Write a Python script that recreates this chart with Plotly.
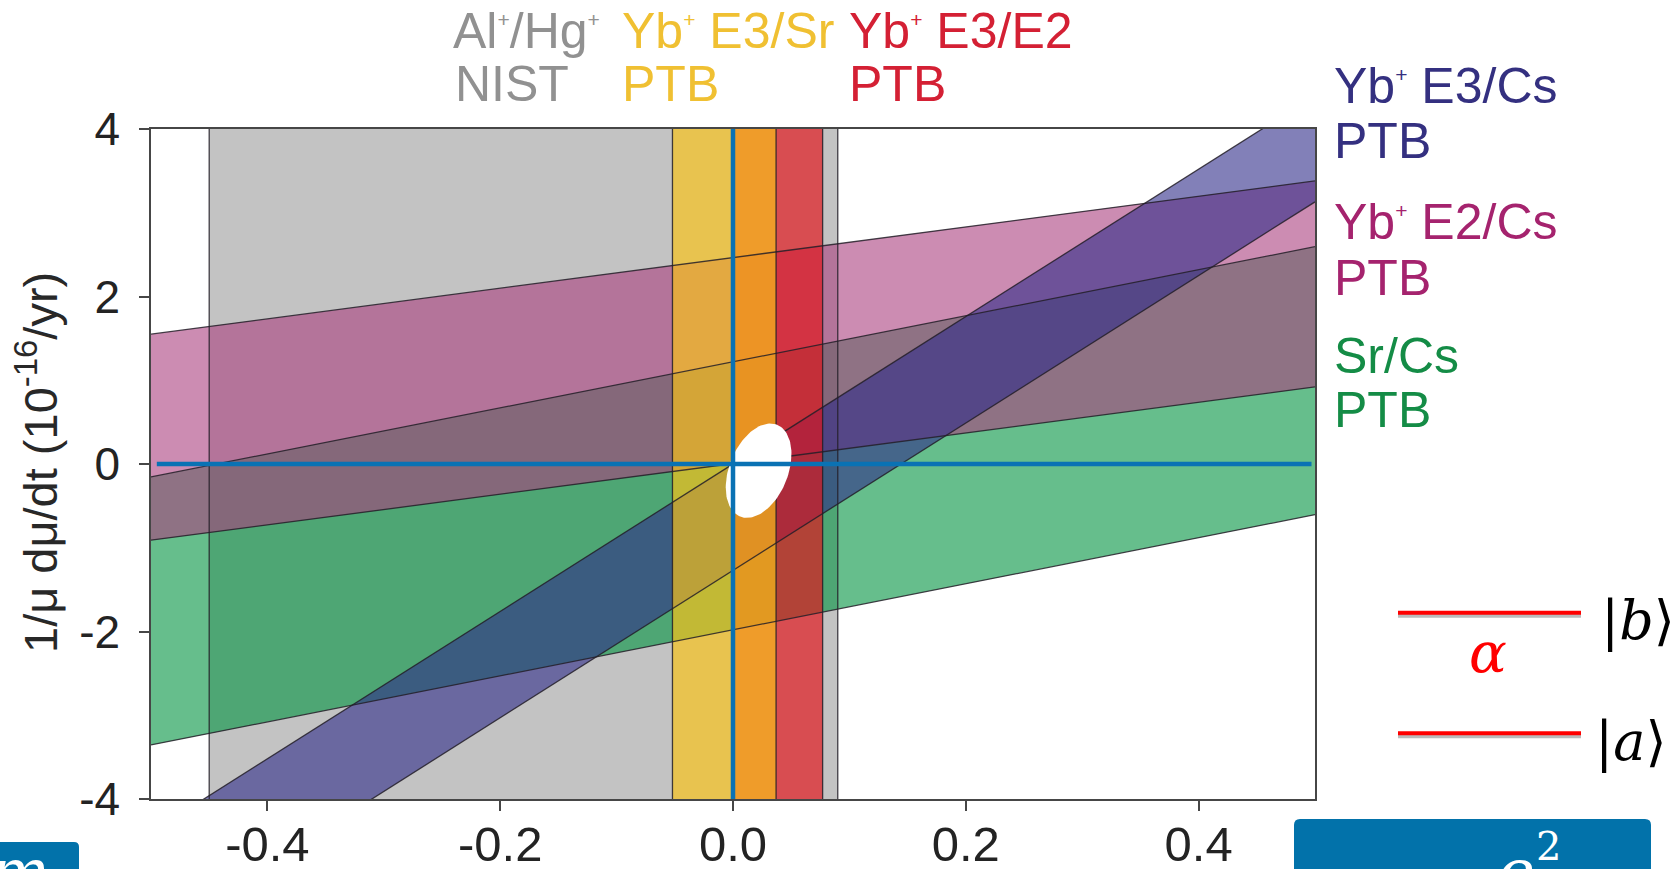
import numpy as np
import plotly.graph_objects as go

# ---- figure geometry (pixels) ----
W, H = 1675, 869
L, R, T, B = 151, 1315, 129, 799

X_RANGE = [-0.5, 0.5]
Y_RANGE = [-4, 4]

# ---- vertical constraints on (1/alpha) dalpha/dt ----
gray_lo, gray_hi = -0.45, 0.09          # Al+/Hg+ NIST
red_lo, red_hi = 0.0, 0.077             # Yb+ E3/E2 PTB
yellow_lo, yellow_hi = -0.052, 0.037    # Yb+ E3/Sr PTB

# ---- slanted constraints: y = slope * x + intercept ----
srcs_slope, srcs_lo, srcs_hi = 2.75, -1.98, 1.22      # Sr/Cs PTB
e2cs_slope, e2cs_lo, e2cs_hi = 1.83, 0.005, 2.465     # Yb+ E2/Cs PTB
e3cs_slope, e3cs_lo, e3cs_hi = 8.8, -1.27, 0.0        # Yb+ E3/Cs PTB

# combined allowed region (ellipse: centre and two semi-axis vectors)
ell_center = (0.022, -0.08)
ell_u = (0.0158, 0.548)
ell_v = (0.0234, -0.130)

x_ticks = [-0.4, -0.2, 0.0, 0.2, 0.4]
x_ticktext = ["-0.4", "-0.2", "0.0", "0.2", "0.4"]
y_ticks = [-4, -2, 0, 2, 4]
y_ticktext = ["-4", "-2", "0", "2", "4"]

EDGE = "rgba(35,30,40,0.85)"
BLUE = "rgb(10,114,180)"
SANS = "Liberation Sans, Arial, sans-serif"
SERIF = "DejaVu Serif, Liberation Serif, serif"
PLUS = '<sup><span style="font-size:60%">+</span></sup>'


def px_x(px):
    return (px - L) / (R - L)


def px_y(py):
    return (B - py) / (B - T)


fig = go.Figure()


def vband(lo, hi, color):
    fig.add_trace(go.Scatter(
        x=[lo, hi, hi, lo, lo], y=[Y_RANGE[0], Y_RANGE[0], Y_RANGE[1], Y_RANGE[1], Y_RANGE[0]],
        mode="lines", line=dict(width=0), fill="toself", fillcolor=color,
        hoverinfo="skip", showlegend=False))


def sband(slope, lo, hi, color):
    xs = np.array([X_RANGE[0], X_RANGE[1], X_RANGE[1], X_RANGE[0], X_RANGE[0]])
    off = np.array([hi, hi, lo, lo, hi])
    fig.add_trace(go.Scatter(
        x=xs, y=slope * xs + off, mode="lines", line=dict(width=0),
        fill="toself", fillcolor=color, hoverinfo="skip", showlegend=False))


def vedge(x0):
    fig.add_trace(go.Scatter(x=[x0, x0], y=Y_RANGE, mode="lines",
                             line=dict(color=EDGE, width=1.3),
                             hoverinfo="skip", showlegend=False))


def sedge(slope, b):
    xs = np.array(X_RANGE)
    fig.add_trace(go.Scatter(x=xs, y=slope * xs + b, mode="lines",
                             line=dict(color=EDGE, width=1.3),
                             hoverinfo="skip", showlegend=False))


# filled regions, bottom to top
vband(gray_lo, gray_hi, "rgb(195,195,195)")
sband(srcs_slope, srcs_lo, srcs_hi, "rgba(0,147,63,0.6)")
sband(e2cs_slope, e2cs_lo, e2cs_hi, "rgba(170,63,127,0.6)")
sband(e3cs_slope, e3cs_lo, e3cs_hi, "rgba(47,43,137,0.6)")
vband(red_lo, red_hi, "rgba(226,20,26,0.68)")
vband(yellow_lo, yellow_hi, "rgba(249,194,23,0.68)")

# band outlines
for xv in (gray_lo, gray_hi, red_lo, red_hi, yellow_lo, yellow_hi):
    vedge(xv)
for s, lo, hi in ((srcs_slope, srcs_lo, srcs_hi),
                  (e2cs_slope, e2cs_lo, e2cs_hi),
                  (e3cs_slope, e3cs_lo, e3cs_hi)):
    sedge(s, lo)
    sedge(s, hi)

# allowed region
t = np.linspace(0, 2 * np.pi, 120)
ex = ell_center[0] + ell_u[0] * np.cos(t) + ell_v[0] * np.sin(t)
ey = ell_center[1] + ell_u[1] * np.cos(t) + ell_v[1] * np.sin(t)
fig.add_trace(go.Scatter(x=ex, y=ey, mode="lines", line=dict(width=0),
                         fill="toself", fillcolor="white",
                         hoverinfo="skip", showlegend=False))

# zero cross-hair
cross_h_x = [-0.495, 0.497]
cross_v_y = [-4, 4]
fig.add_trace(go.Scatter(x=cross_h_x, y=[0, 0], mode="lines",
                         line=dict(color=BLUE, width=4.5),
                         hoverinfo="skip", showlegend=False))
fig.add_trace(go.Scatter(x=[0, 0], y=cross_v_y, mode="lines",
                         line=dict(color=BLUE, width=4.5),
                         hoverinfo="skip", showlegend=False))

annotations = []


def ann(text, xp, yp, size, color, xanchor="left", family=SANS, angle=0):
    annotations.append(dict(
        text=text, x=px_x(xp), y=px_y(yp), xref="paper", yref="paper",
        xanchor=xanchor, yanchor="middle", showarrow=False, textangle=angle,
        font=dict(size=size, color=color, family=family)))


GRAY_T = "rgb(145,145,145)"
YEL_T = "rgb(240,192,50)"
RED_T = "rgb(212,32,52)"
NAVY_T = "rgb(52,48,128)"
MAG_T = "rgb(165,35,110)"
GRN_T = "rgb(20,140,70)"

ann(f"Al{PLUS}/Hg{PLUS}", 451, 31, 50, GRAY_T)
ann("NIST", 453, 84, 50, GRAY_T)
ann(f"Yb{PLUS} E3/Sr", 620, 31, 50, YEL_T)
ann("PTB", 620, 84, 50, YEL_T)
ann(f"Yb{PLUS} E3/E2", 847, 31, 50, RED_T)
ann("PTB", 847, 84, 50, RED_T)

ann(f"Yb{PLUS} E3/Cs", 1332, 86, 50, NAVY_T)
ann("PTB", 1332, 141, 50, NAVY_T)
ann(f"Yb{PLUS} E2/Cs", 1332, 222, 50, MAG_T)
ann("PTB", 1332, 278, 50, MAG_T)
ann("Sr/Cs", 1332, 356, 50, GRN_T)
ann("PTB", 1332, 410, 50, GRN_T)

ann("1/\u03bc d\u03bc/dt (10<sup>-16</sup>/yr)", 37, 463, 47, "rgb(40,40,40)",
    xanchor="center", angle=-90)

# two-level sketch
ann("<i>\u03b1</i>", 1488, 652, 56, "red", xanchor="center", family=SERIF)
ann("|<i>b</i>\u27e9", 1599, 620, 54, "black", family=SERIF)
ann("|<i>a</i>\u27e9", 1593, 741, 54, "black", family=SERIF)
ann("<i>e</i>", 1516, 872, 64, "white", xanchor="center", family=SERIF)
ann("2", 1548, 846, 40, "white", xanchor="center", family=SERIF)
ann("<i>m</i>", 19, 872, 64, "white", xanchor="center", family=SERIF)

shapes = []
for ly in (612.7, 733.3):
    shapes.append(dict(type="line", xref="paper", yref="paper",
                       x0=px_x(1398), x1=px_x(1581), y0=px_y(ly + 3), y1=px_y(ly + 3),
                       line=dict(color="rgba(60,60,60,0.35)", width=4), layer="above"))
    shapes.append(dict(type="line", xref="paper", yref="paper",
                       x0=px_x(1398), x1=px_x(1581), y0=px_y(ly), y1=px_y(ly),
                       line=dict(color="rgb(255,0,0)", width=4), layer="above"))


def rounded_box(x0, y0, x1, y1, r):
    X0, X1 = px_x(x0), px_x(x1)
    Y0, Y1 = px_y(y0), px_y(y1)
    rx = r / (R - L)
    ry = r / (B - T)
    return (f"M {X0},{Y1} L {X0},{Y0 - ry} Q {X0},{Y0} {X0 + rx},{Y0} "
            f"L {X1 - rx},{Y0} Q {X1},{Y0} {X1},{Y0 - ry} L {X1},{Y1} Z")


BOX = "rgb(2,114,170)"
shapes.append(dict(type="path", xref="paper", yref="paper",
                   path=rounded_box(1294, 819, 1651, 900, 6),
                   fillcolor=BOX, line=dict(width=0), layer="below"))
shapes.append(dict(type="path", xref="paper", yref="paper",
                   path=rounded_box(-20, 842, 79, 900, 5),
                   fillcolor=BOX, line=dict(width=0), layer="below"))

axis_common = dict(showgrid=False, zeroline=False, showline=True, mirror=True,
                   linecolor="rgb(70,70,70)", linewidth=1.5, ticks="outside",
                   ticklen=10, tickwidth=1.5, tickcolor="rgb(70,70,70)",
                   automargin=False)

fig.update_layout(
    width=W, height=H,
    margin=dict(l=L, r=W - R, t=T, b=H - B, pad=0),
    plot_bgcolor="white", paper_bgcolor="white",
    xaxis=dict(range=X_RANGE, tickvals=x_ticks, ticktext=x_ticktext,
               tickfont=dict(size=49, family=SANS, color="rgb(35,35,35)"),
               ticklabelstandoff=-9, **axis_common),
    yaxis=dict(range=Y_RANGE, tickvals=y_ticks, ticktext=y_ticktext,
               tickfont=dict(size=46, family=SANS, color="rgb(35,35,35)"),
               ticklabelstandoff=10, **axis_common),
    annotations=annotations, shapes=shapes, showlegend=False,
)

fig.write_html("out.html")
